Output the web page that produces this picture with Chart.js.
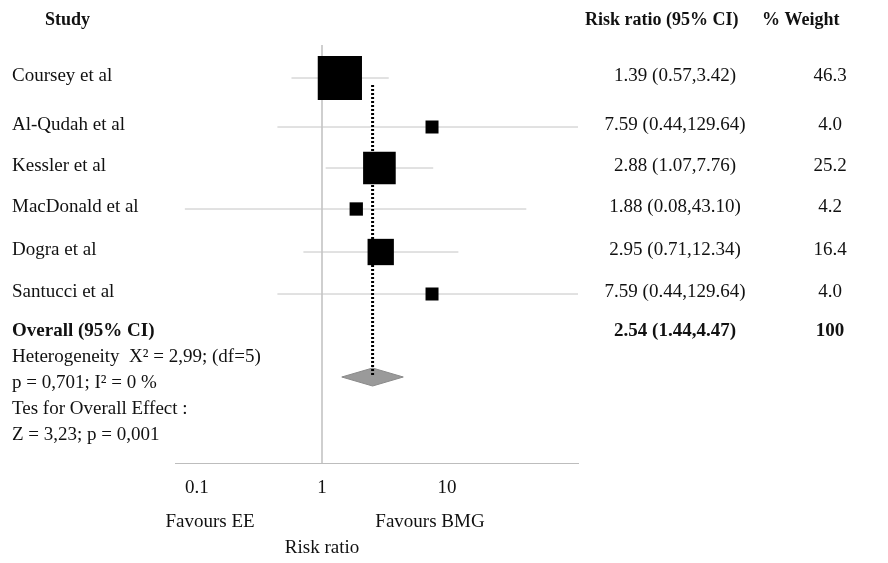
<!DOCTYPE html>
<html><head><meta charset="utf-8">
<script src="https://cdn.jsdelivr.net/npm/chart.js@4/dist/chart.umd.min.js"></script>
<style>html,body{margin:0;background:#fff}</style>
</head><body>
<canvas id="c" width="888" height="563"></canvas>
<script>
const studies = ['Coursey et al','Al-Qudah et al','Kessler et al','MacDonald et al','Dogra et al','Santucci et al'];
const rr = [1.39, 7.59, 2.88, 1.88, 2.95, 7.59];
const lo = [0.57, 0.44, 1.07, 0.08, 0.71, 0.44];
const hi = [3.42, 129.64, 7.76, 43.10, 12.34, 129.64];
const weights = [46.3, 4.0, 25.2, 4.2, 16.4, 4.0];
const overall = {rr: 2.54, lo: 1.44, hi: 4.47, weight: 100};
const tickValues = [0.1, 1, 10];

// row positions (pixel rows, y axis maps 1:1 to page pixels)
const rowY = [78, 127, 168, 209, 252, 294];
const overallY = 333, diamondY = 377;
const FONT = '"Liberation Serif", "DejaVu Serif", serif';

const datasets = [];
// line of no effect
datasets.push({type:'line', order:5, data:[{x:1,y:45},{x:1,y:463}], borderColor:'#c8c8c8', borderWidth:1, pointRadius:0});
// CIs
studies.forEach((s,i) => {
  datasets.push({type:'line', order:4, data:[{x:lo[i],y:rowY[i]},{x:hi[i],y:rowY[i]}], borderColor:'#c4c4c4', borderWidth:1, pointRadius:0});
});
// diamond
datasets.push({type:'line', order:3, data:[{x:overall.lo,y:diamondY},{x:overall.rr,y:diamondY-9},{x:overall.hi,y:diamondY},{x:overall.rr,y:diamondY+9},{x:overall.lo,y:diamondY}],
  borderColor:'#8a8a8a', borderWidth:1, backgroundColor:'#9a9a9a', fill:'shape', pointRadius:0, tension:0});
// squares
datasets.push({type:'scatter', order:2, data: rr.map((v,i)=>({x:v,y:rowY[i]})),
  pointStyle:'rect', pointRadius: weights.map(w=>Math.sqrt(w)*6.5/1.414),
  backgroundColor:'#000', borderColor:'#000', borderWidth:0});
// overall dotted line
datasets.push({type:'line', order:1, data:[{x:overall.rr,y:85},{x:overall.rr,y:diamondY}], borderColor:'#000', borderWidth:3, borderDash:[2,2], pointRadius:0});

const textPlugin = {
  id:'texts',
  afterDraw(chart){
    const ctx = chart.ctx;
    ctx.save();
    ctx.fillStyle = '#111';
    ctx.textBaseline = 'middle';
    const t = (s,x,y,align='left',bold=false,size=19) => {
      ctx.font = (bold?'bold ':'') + size + 'px ' + FONT;
      ctx.textAlign = align; ctx.fillText(s,x,y);
    };
    t('Study',45,20,'left',true,18);
    t('Risk ratio (95% CI)',585,20,'left',true,18);
    t('% Weight',762,20,'left',true,18);
    studies.forEach((s,i)=>{
      t(s,12,rowY[i]-2);
      t(rr[i].toFixed(2)+' ('+lo[i].toFixed(2)+','+hi[i].toFixed(2)+')',675,rowY[i]-2,'center');
      t(weights[i].toFixed(1),830,rowY[i]-2,'center');
    });
    t('Overall (95% CI)',12,overallY-2,'left',true);
    t(overall.rr.toFixed(2)+' ('+overall.lo.toFixed(2)+','+overall.hi.toFixed(2)+')',675,overallY-2,'center',true);
    t(String(overall.weight),830,overallY-2,'center',true);
    t('Heterogeneity  X² = 2,99; (df=5)',12,357);
    t('p = 0,701; I² = 0 %',12,383);
    t('Tes for Overall Effect :',12,409);
    t('Z = 3,23; p = 0,001',12,435);
    t('Favours EE',210,522,'center');
    t('Favours BMG',430,522,'center');
    t('Risk ratio',322,548,'center');
    ctx.restore();
  }
};

new Chart(document.getElementById('c'), {
  data:{datasets},
  options:{
    responsive:false, animation:false,
    layout:{padding:{left:175,right:310,top:45,bottom:70}},
    plugins:{legend:{display:false},tooltip:{enabled:false}},
    scales:{
      x:{type:'logarithmic', min:0.0667, max:111.7,
        afterFit: s => { s.height = 30; },
        afterBuildTicks: s => { s.ticks = tickValues.map(v=>({value:v})); },
        grid:{display:false, drawTicks:false},
        border:{color:'#bdbdbd'},
        ticks:{padding:14, color:'#111', font:{family:FONT,size:19}, callback:v=>String(v)}},
      y:{type:'linear', min:45, max:463, reverse:true, display:false}
    }
  },
  plugins:[textPlugin]
});
</script>
</body></html>
